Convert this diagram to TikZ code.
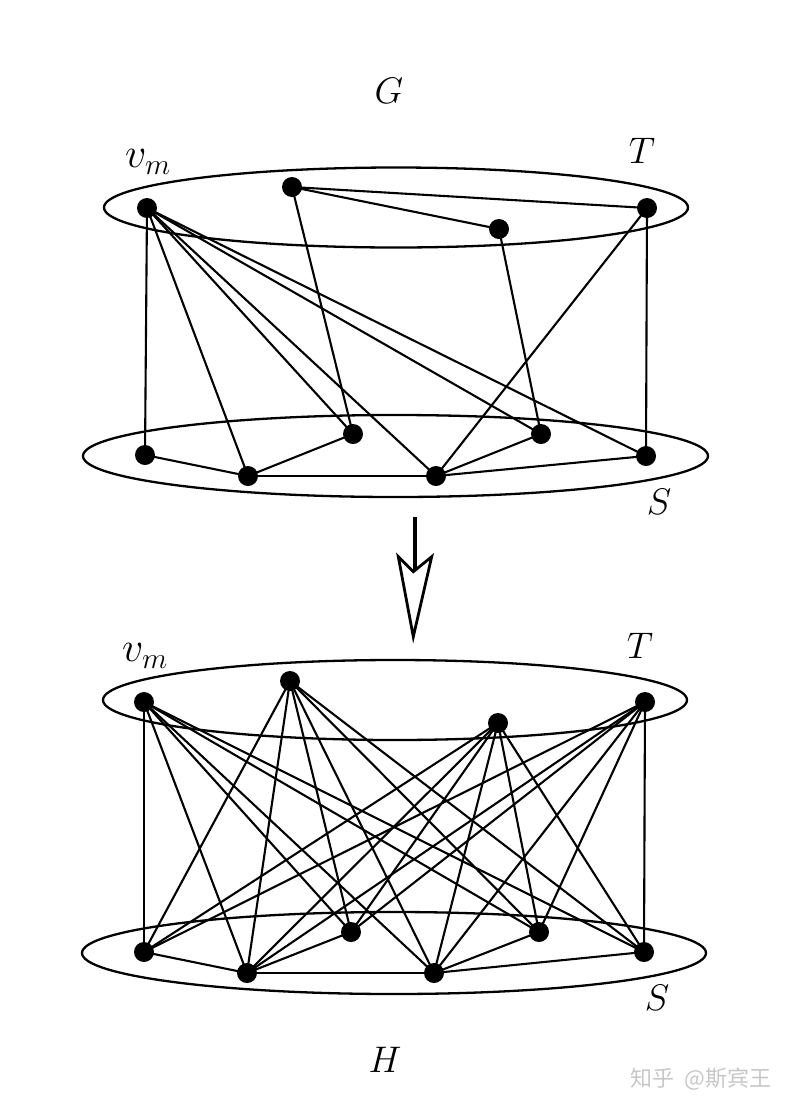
\RequirePackage{fix-cm}
\documentclass[tikz,border=0pt]{standalone}
\usepackage{fontspec}
\newfontfamily\cjk{Noto Sans CJK SC}
\begin{document}
\begin{tikzpicture}[x=1pt,y=-1pt,
  vtx/.style={circle,fill=black,inner sep=0pt,minimum size=20pt},
  edge/.style={line width=2.1pt},
  ring/.style={line width=2.3pt},
  lbl/.style={inner sep=0pt,font=\fontsize{37}{40}\selectfont},
  vlbl/.style={inner sep=0pt,font=\fontsize{42}{46}\selectfont}]
\useasboundingbox (0,0) rectangle (795,1112);
% ---------- G ----------
\draw[ring] (396,207.5) ellipse [x radius=292pt, y radius=40pt];
\draw[ring] (395.5,456) ellipse [x radius=312.5pt, y radius=41pt];
\node[lbl] (lG) at (389,91) {$G$};
\node[vlbl] (lvG) at (148,162) {$v_m$};
\node[lbl] (lTG) at (642,151) {$T$};
\node[lbl] (lSG) at (659,502) {$S$};
\node[vtx] (a1) at (147,208) {};
\node[vtx] (a2) at (292,187) {};
\node[vtx] (a3) at (499,229) {};
\node[vtx] (a4) at (647,208) {};
\node[vtx] (b1) at (145,455) {};
\node[vtx] (b2) at (248,476) {};
\node[vtx] (b3) at (353,434) {};
\node[vtx] (b4) at (436,476) {};
\node[vtx] (b5) at (541,434) {};
\node[vtx] (b6) at (646,456) {};
\foreach \s in {b1,b2,b3,b4,b5,b6} \draw[edge] (a1.center) -- (\s.center);
\draw[edge] (a2.center) -- (a4.center);
\draw[edge] (a2.center) -- (a3.center);
\draw[edge] (a2.center) -- (b3.center);
\draw[edge] (a3.center) -- (b5.center);
\draw[edge] (a4.center) -- (b4.center);
\draw[edge] (a4.center) -- (b6.center);
\draw[edge] (b1.center) -- (b2.center);
\draw[edge] (b2.center) -- (b3.center);
\draw[edge] (b2.center) -- (b4.center);
\draw[edge] (b4.center) -- (b5.center);
\draw[edge] (b4.center) -- (b6.center);
% ---------- arrow ----------
\coordinate (arT) at (415,517);
\coordinate (arN) at (415,570);
\draw[line width=3.2pt] (arT) -- (arN);
\draw[line width=2.8pt, fill=white, line join=miter] (398.3,556.7) -- (413.3,571.7) -- (431.7,556.7) -- (413.3,636.7) -- cycle;
% ---------- H ----------
\draw[ring] (395,700) ellipse [x radius=292pt, y radius=40pt];
\draw[ring] (394,953) ellipse [x radius=312pt, y radius=41pt];
\node[vlbl] (lvH) at (145,656) {$v_m$};
\node[lbl] (lTH) at (640,646) {$T$};
\node[lbl] (lSH) at (657,998) {$S$};
\node[lbl] (lH) at (385,1060) {$H$};
\node[vtx] (c1) at (144,702) {};
\node[vtx] (c2) at (290,681) {};
\node[vtx] (c3) at (498,723) {};
\node[vtx] (c4) at (645,702) {};
\node[vtx] (d1) at (144,952) {};
\node[vtx] (d2) at (247,973) {};
\node[vtx] (d3) at (351,932) {};
\node[vtx] (d4) at (434,973) {};
\node[vtx] (d5) at (539,932) {};
\node[vtx] (d6) at (644,952) {};
\foreach \t in {c1,c2,c3,c4}
  \foreach \s in {d1,d2,d3,d4,d5,d6}
    \draw[edge] (\t.center) -- (\s.center);
\draw[edge] (d1.center) -- (d2.center);
\draw[edge] (d2.center) -- (d3.center);
\draw[edge] (d2.center) -- (d4.center);
\draw[edge] (d4.center) -- (d5.center);
\draw[edge] (d4.center) -- (d6.center);
% ---------- watermark ----------
\node[inner sep=0pt, text=black!22, font=\cjk\fontsize{22}{24}\selectfont] (wm) at (701,1079) {知乎\ \ @斯宾王};
\end{tikzpicture}
\end{document}
